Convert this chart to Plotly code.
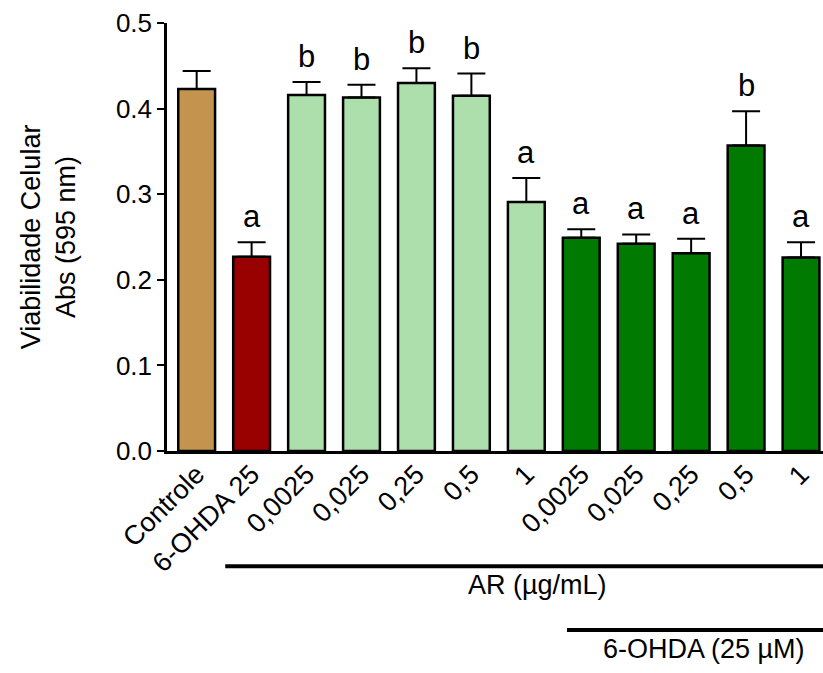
import plotly.graph_objects as go

# Cell viability (absorbance at 595 nm), mean and SEM per group
categories = ["Controle", "6-OHDA 25", "0,0025", "0,025", "0,25", "0,5", "1",
              "0,0025", "0,025", "0,25", "0,5", "1"]
means = [0.423, 0.227, 0.416, 0.413, 0.430, 0.415, 0.291,
         0.249, 0.242, 0.231, 0.357, 0.226]
sem = [0.021, 0.017, 0.015, 0.015, 0.017, 0.026, 0.028,
       0.010, 0.011, 0.017, 0.040, 0.018]
letters = ["", "a", "b", "b", "b", "b", "a", "a", "a", "a", "b", "a"]

TAN = "#C4944F"
RED = "#990000"
LIGHT = "#ADDFAD"
DARK = "#007A00"
colors = [TAN, RED] + [LIGHT] * 5 + [DARK] * 5

FONT = "Liberation Sans, Arial, sans-serif"
x = list(range(len(categories)))

fig = go.Figure()
fig.add_trace(go.Bar(
    x=x, y=means,
    marker=dict(color=colors, line=dict(color="black", width=2.5)),
    error_y=dict(type="data", array=sem, arrayminus=[0] * len(sem),
                 symmetric=False, color="black", thickness=2, width=14),
    width=0.67,
    showlegend=False,
))

# significance letters above each error bar
for i, (m, s, t) in enumerate(zip(means, sem, letters)):
    if t:
        fig.add_annotation(x=i, y=m + s, text=t, showarrow=False,
                           xanchor="center", yanchor="bottom", yshift=6,
                           font=dict(family=FONT, size=31, color="black"))

# treatment group bars and labels under the axis
fig.add_shape(type="line", xref="x", yref="paper", x0=0.52, x1=11.4,
              y0=-0.269, y1=-0.269, line=dict(color="black", width=4))
fig.add_shape(type="line", xref="x", yref="paper", x0=6.74, x1=11.4,
              y0=-0.418, y1=-0.418, line=dict(color="black", width=4))
fig.add_annotation(xref="x", yref="paper", x=6.21, y=-0.313,
                   xanchor="center", yanchor="middle",
                   text="AR (\u00b5g/mL)", showarrow=False,
                   font=dict(family=FONT, size=27, color="black"))
fig.add_annotation(xref="x", yref="paper", x=9.23, y=-0.463,
                   xanchor="center", yanchor="middle",
                   text="6-OHDA (25 \u00b5M)", showarrow=False,
                   font=dict(family=FONT, size=27, color="black"))

# y-axis title
fig.add_annotation(xref="paper", yref="paper", x=-0.181, y=0.5,
                   xanchor="center", yanchor="middle",
                   text="Viabilidade Celular<br>Abs (595 nm)",
                   textangle=-90, showarrow=False,
                   font=dict(family=FONT, size=27, color="black"))

fig.update_layout(
    width=823, height=673,
    margin=dict(l=167, r=0, t=23, b=222),
    plot_bgcolor="white", paper_bgcolor="white",
    font=dict(family=FONT, size=26, color="black"),
    xaxis=dict(
        range=[-0.54, 11.4],
        tickmode="array", tickvals=x, ticktext=categories,
        tickangle=-45, ticks="", showline=True, linecolor="black",
        linewidth=2.5, showgrid=False, zeroline=False,
        ticklabelstandoff=-6,
        tickfont=dict(family=FONT, size=27, color="black"),
    ),
    yaxis=dict(
        range=[0, 0.5], dtick=0.1, tickformat=".1f",
        ticks="outside", ticklen=7, tickwidth=2, tickcolor="black",
        showline=True, linecolor="black", linewidth=2.5,
        showgrid=False, zeroline=False,
        tickfont=dict(family=FONT, size=26, color="black"),
    ),
)

fig.write_html("out.html")
